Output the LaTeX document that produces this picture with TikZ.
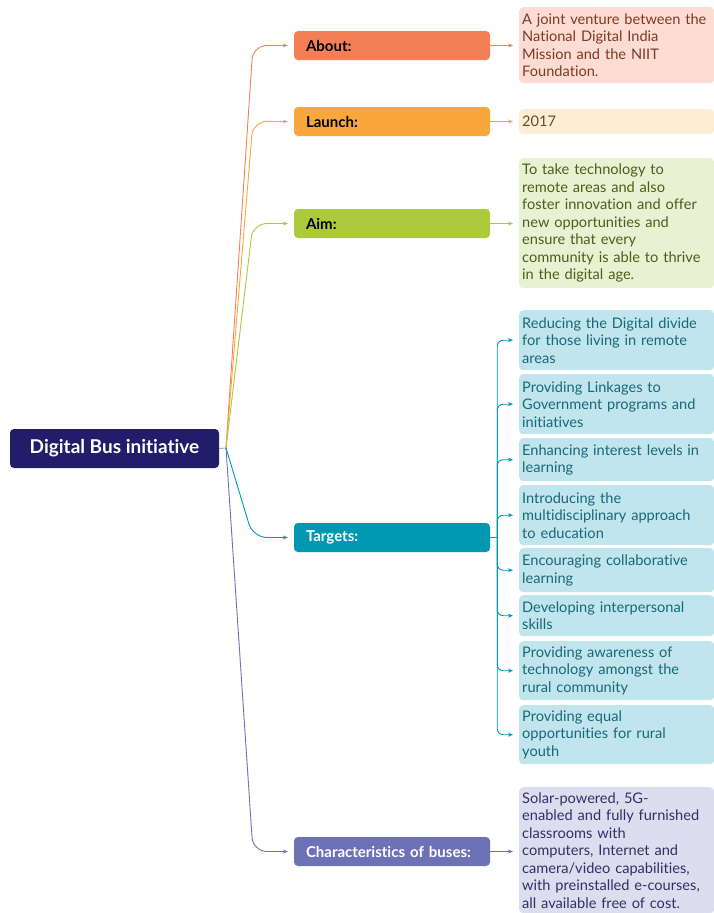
\documentclass[tikz,border=0pt]{standalone}
\usepackage{fontspec}
\setmainfont{Lato}[Ligatures=CommonOff]
\usepackage{tikz}
\usetikzlibrary{arrows.meta}

%%Colours
\definecolor{rootc}{HTML}{221D6B}
\definecolor{aboutc}{HTML}{F47F57}
\definecolor{aboutf}{HTML}{FDDDD3}
\definecolor{aboutt}{HTML}{7E3A26}
\definecolor{launchc}{HTML}{F9A73A}
\definecolor{launchf}{HTML}{FEEDD5}
\definecolor{launcht}{HTML}{6E4A1C}
\definecolor{aimc}{HTML}{ABC93B}
\definecolor{aimf}{HTML}{E9F1D3}
\definecolor{aimt}{HTML}{4C5E18}
\definecolor{targc}{HTML}{0097B2}
\definecolor{targf}{HTML}{C1E5EC}
\definecolor{targt}{HTML}{17687A}
\definecolor{charc}{HTML}{6D72B6}
\definecolor{charf}{HTML}{DCDDEF}
\definecolor{chart}{HTML}{2E3264}

\begin{document}
\begin{tikzpicture}[x=1pt,y=-1pt,
	rootbox/.style={fill=rootc, rounded corners=4pt, text=white, font=\fontsize{19}{22}\selectfont\bfseries, minimum width=209pt, minimum height=39pt},
	catbox/.style={rounded corners=4pt, minimum height=29pt, text width=172pt, inner xsep=12pt, align=left, font=\fontsize{15}{18}\selectfont\bfseries},
	detbox/.style={rounded corners=4pt, text width=189pt, inner xsep=3pt, inner ysep=2pt, align=left, anchor=north west, font=\fontsize{14.6}{17.5}\selectfont},
	link/.style={-{Stealth[length=5pt,width=4pt]}, line width=0.9pt, shorten >=6pt},
	tlink/.style={link, draw=targc, rounded corners=6pt}]

	%%Frame
	\useasboundingbox (0,0) rectangle (714,913);

	%%Root
	\node[rootbox] (root) at (114.5,448.5) {Digital Bus initiative};
	\coordinate (hub) at (226,448);
	\coordinate (bend) at (253,448);

	%%Categories
	\node[catbox, fill=aboutc] (about) at (392,45.5) {About:};
	\node[catbox, fill=launchc] (launch) at (392,121.5) {Launch:};
	\node[catbox, fill=aimc] (aim) at (392,223.5) {Aim:};
	\node[catbox, fill=targc, text=white] (targets) at (392,537.5) {Targets:};
	\node[catbox, fill=charc, text=white] (chars) at (392,851.5) {Characteristics of buses:};

	%%Details
	\node[detbox, fill=aboutf, text=aboutt, minimum height=76pt] (aboutd) at (519,7) {A joint venture between the\\National Digital India\\Mission and the NIIT\\Foundation.};
	\node[detbox, fill=launchf, text=launcht, minimum height=25pt] (launchd) at (519,109) {2017};
	\node[detbox, fill=aimf, text=aimt, minimum height=130pt] (aimd) at (519,158) {To take technology to\\remote areas and also\\foster innovation and offer\\new opportunities and\\ensure that every\\community is able to thrive\\in the digital age.};
	\node[detbox, fill=charf, text=chart, minimum height=126pt] (charsd) at (519,787) {Solar-powered, 5G-\\enabled and fully furnished\\classrooms with\\computers, Internet and\\camera/video capabilities,\\with preinstalled e-courses,\\all available free of cost.};

	%%Targets
	\node[detbox, fill=targf, text=targt, minimum height=60pt] (t1) at (519,310) {Reducing the Digital divide\\for those living in remote\\areas};
	\node[detbox, fill=targf, text=targt, minimum height=60pt] (t2) at (519,374) {Providing Linkages to\\Government programs and\\initiatives};
	\node[detbox, fill=targf, text=targt, minimum height=43pt] (t3) at (519,438) {Enhancing interest levels in\\learning};
	\node[detbox, fill=targf, text=targt, minimum height=60pt] (t4) at (519,485) {Introducing the\\multidisciplinary approach\\to education};
	\node[detbox, fill=targf, text=targt, minimum height=44pt] (t5) at (519,548) {Encouraging collaborative\\learning};
	\node[detbox, fill=targf, text=targt, minimum height=41pt] (t6) at (519,595) {Developing interpersonal\\skills};
	\node[detbox, fill=targf, text=targt, minimum height=59pt] (t7) at (519,641) {Providing awareness of\\technology amongst the\\rural community};
	\node[detbox, fill=targf, text=targt, minimum height=59pt] (t8) at (519,705) {Providing equal\\opportunities for rural\\youth};

	%%Connectors root
	\draw[line width=0.9pt, draw=charc!60] (root.east) -- (hub);
	\draw[link, draw=aboutc, rounded corners=14pt] (hub) -- (bend |- about.west) -- (about.west);
	\draw[link, draw=launchc, rounded corners=14pt] (hub) -- (bend |- launch.west) -- (launch.west);
	\draw[link, draw=aimc, rounded corners=14pt] (hub) -- (bend |- aim.west) -- (aim.west);
	\draw[link, draw=targc, rounded corners=14pt] (hub) -- (bend |- targets.west) -- (targets.west);
	\draw[link, draw=charc, rounded corners=14pt] (hub) -- (bend |- chars.west) -- (chars.west);

	%%Connectors details
	\draw[link, draw=aboutc] (about) -- (about -| aboutd.west);
	\draw[link, draw=launchc] (launch) -- (launch -| launchd.west);
	\draw[link, draw=aimc] (aim) -- (aim -| aimd.west);
	\draw[link, draw=charc] (chars) -- (chars -| charsd.west);

	%%Connectors targets
	\coordinate (tbus) at ([xshift=7pt]targets.east);
	\draw[line width=0.9pt, draw=targc] (targets.east) -- (tbus);
	\draw[tlink] (tbus) |- (t1.west);
	\draw[tlink] (tbus) |- (t2.west);
	\draw[tlink] (tbus) |- (t3.west);
	\draw[tlink] (tbus) |- (t4.west);
	\draw[tlink] (tbus) |- (t5.west);
	\draw[tlink] (tbus) |- (t6.west);
	\draw[tlink] (tbus) |- (t7.west);
	\draw[tlink] (tbus) |- (t8.west);
\end{tikzpicture}
\end{document}
